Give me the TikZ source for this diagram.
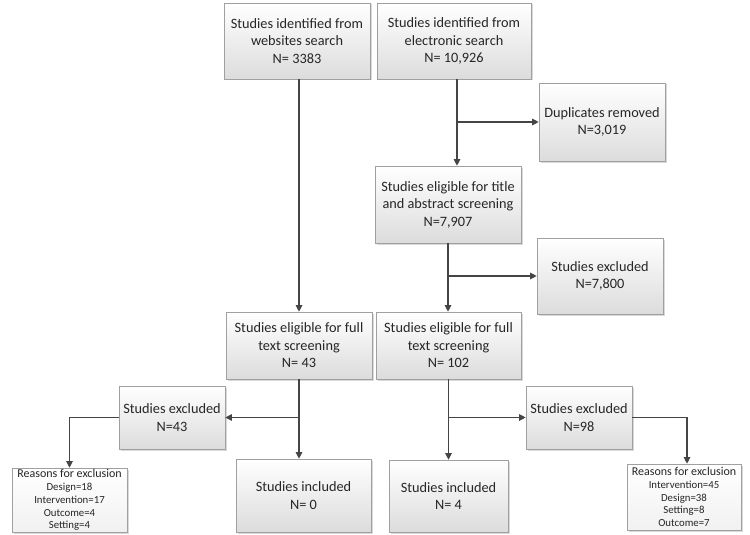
\documentclass[tikz,border=0pt]{standalone}
\usepackage{fontspec}
\setmainfont{Carlito}
\usetikzlibrary{arrows.meta,shadows,calc}
\definecolor{boxline}{HTML}{A0A0A0}
\definecolor{boxbot}{HTML}{DCDCDC}
\definecolor{linec}{HTML}{454545}
\begin{document}
\begin{tikzpicture}[x=1pt,y=-1pt,
  box/.style 2 args={draw=boxline, line width=0.6pt, top color=white, bottom color=boxbot,
    drop shadow={shadow xshift=1.5pt, shadow yshift=-1.5pt, fill=black, opacity=0.15},
    align=center, inner sep=1pt, text=black!85,
    font=\fontsize{14.3}{17.5}\selectfont, minimum width=#1, minimum height=#2},
  reason/.style={font=\fontsize{10.8}{12.8}\selectfont, bottom color=boxbot!40},
  arr/.style={draw=linec, line width=1.1pt, -{Triangle[length=6.5pt,width=6.5pt]}},
  ln/.style={draw=linec, line width=1.1pt}]
\useasboundingbox (0,0) rectangle (750,535);

\node[box={146}{76}] (A) at (297,41) {Studies identified from\\websites search\\N= 3383};
\node[box={154}{76}] (B) at (454,41) {Studies identified from\\electronic search\\N= 10,926};
\node[box={126}{78}] (D) at (602,122) {Duplicates removed\\N=3,019};
\node[box={146}{77}] (T) at (448,204.5) {Studies eligible for title\\and abstract screening\\N=7,907};
\node[box={126}{76}] (E1) at (600,276) {Studies excluded\\N=7,800};
\node[box={146}{67}] (FL) at (299,345.5) {Studies eligible for full\\text screening\\N= 43};
\node[box={145}{67}] (FR) at (448.5,345.5) {Studies eligible for full\\text screening\\N= 102};
\node[box={106}{63}] (XL) at (172,417.5) {Studies excluded\\N=43};
\node[box={135}{73}] (IL) at (303.5,495.5) {Studies included\\N= 0};
\node[box={115}{64}, reason, inner sep=0pt] (RL) at (69.5,500) {{\fontsize{12}{12}\selectfont Reasons for exclusion}\\Design=18\\Intervention=17\\Outcome=4\\Setting=4};
\node[box={119}{72}] (IR) at (448.5,496) {Studies included\\N= 4};
\node[box={106}{63}] (XR) at (579,417.5) {Studies excluded\\N=98};
\node[box={114}{66}, reason, inner sep=0pt] (RR) at (684,497) {{\fontsize{12}{12}\selectfont Reasons for exclusion}\\Intervention=45\\Design=38\\Setting=8\\Outcome=7};

% websites branch
\draw[arr] (FL.north |- A.south) -- (FL.north);
% electronic branch
\coordinate (bx) at ([xshift=3pt]B.south);
\draw[arr] (bx) -- (bx |- T.north);
\draw[arr] (bx |- D.west) -- (D.west);
% title/abstract
\draw[arr] (T.south) -- (T.south |- FR.north);
\draw[arr] (T.south |- E1.west) -- (E1.west);
% left full text
\draw[arr] (FL.south) -- (FL.south |- IL.north);
\draw[arr] (FL.south |- XL.east) -- (XL.east);
\draw[arr] (XL.west) -| (RL.north);
% right full text
\draw[arr] (FR.south) -- (FR.south |- IR.north);
\draw[arr] (FR.south |- XR.west) -- (XR.west);
\coordinate (rx) at ([xshift=3pt]RR.north);
\draw[arr] (XR.east) -| (rx);
\end{tikzpicture}
\end{document}
